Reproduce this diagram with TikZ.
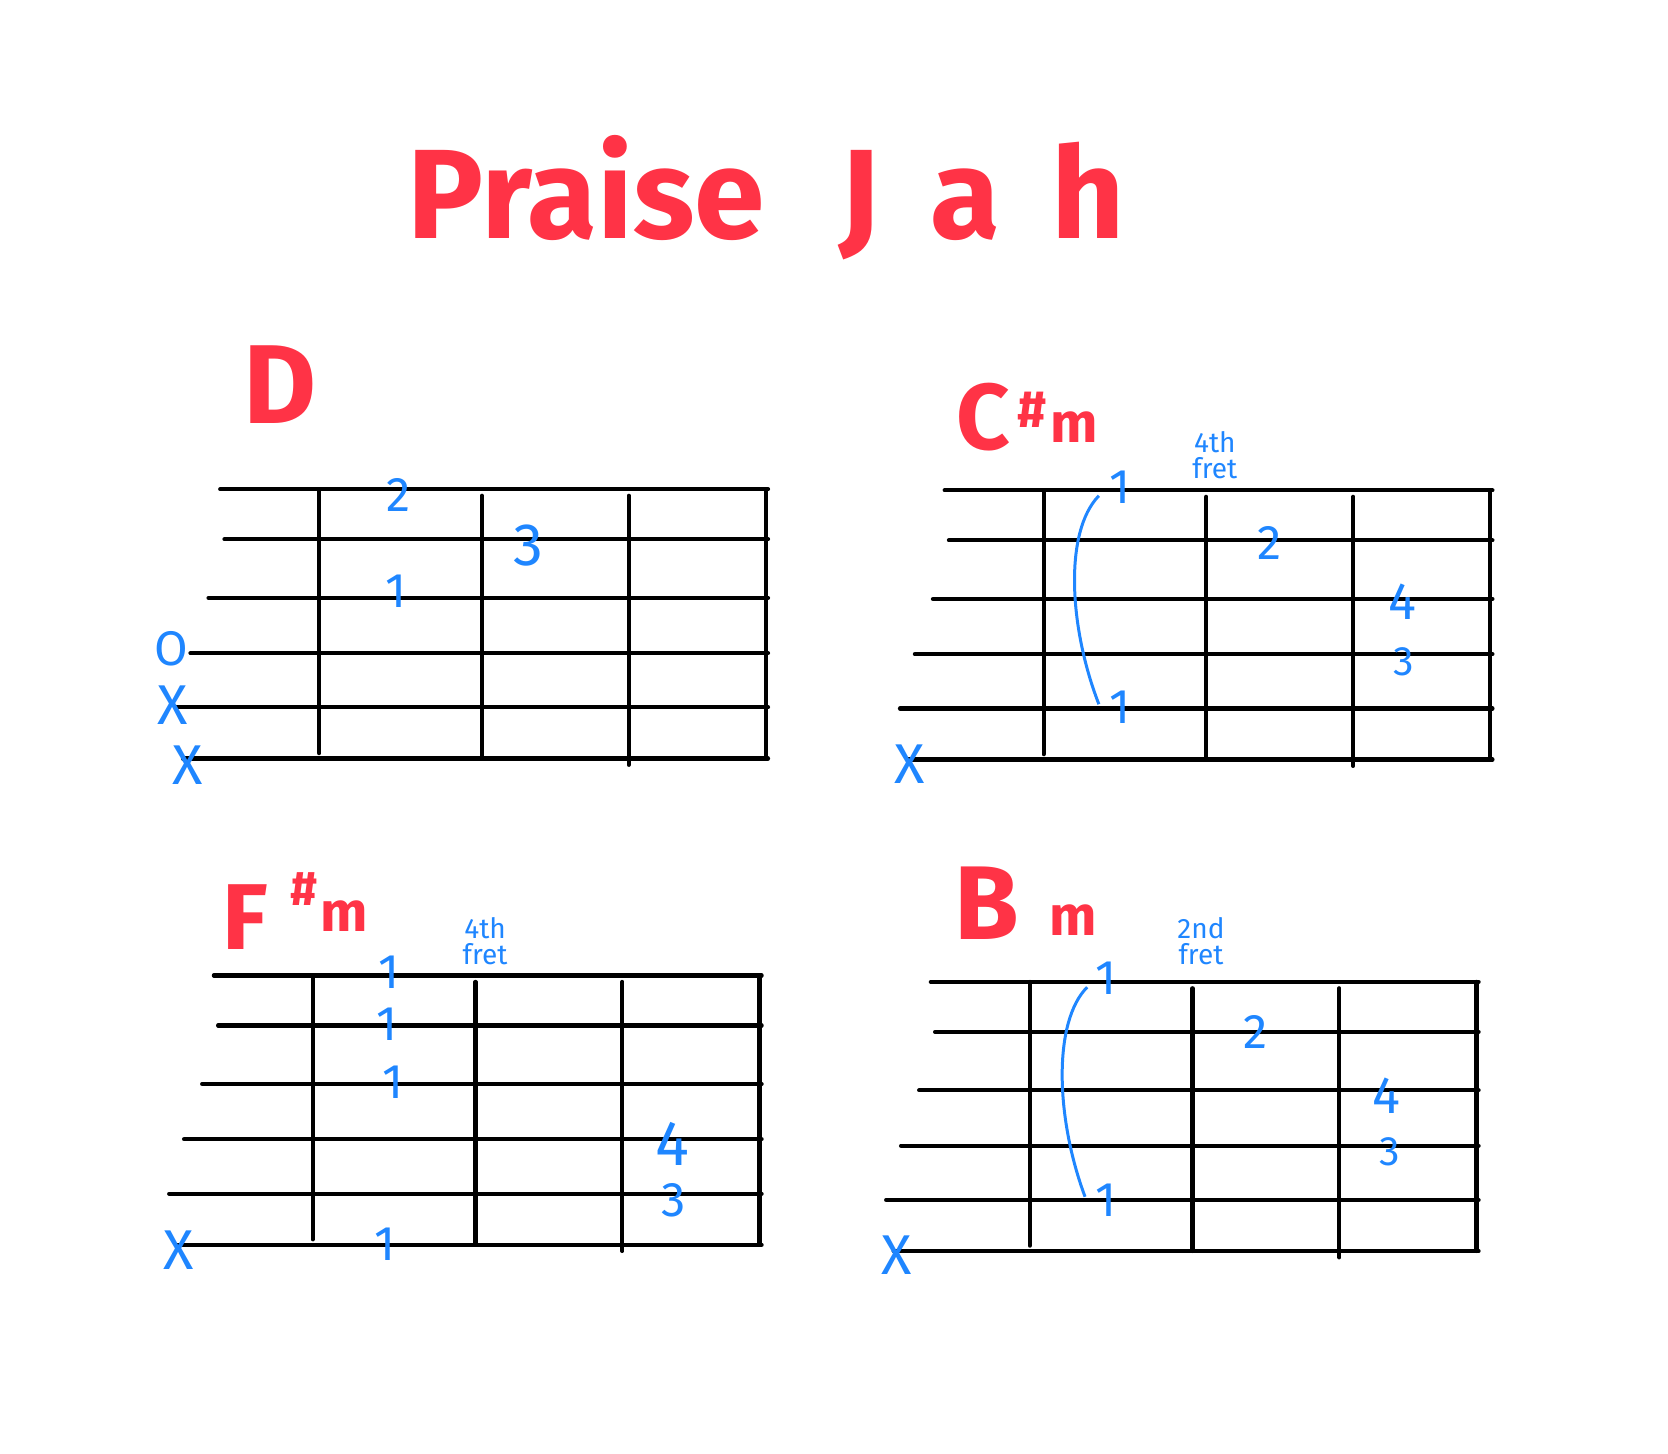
\documentclass[tikz,border=0pt]{standalone}
\usepackage{fontspec}
\setmainfont{Fira Sans}
\newfontfamily\widepen[LetterSpace=40]{Fira Sans}
\usetikzlibrary{calc}
\definecolor{penred}{HTML}{FF3346}
\definecolor{penblue}{HTML}{1F86FF}
\tikzset{
  stringline/.style={line width=1.1pt, draw=black, line cap=round},
  fretline/.style={line width=1.1pt, draw=black, line cap=round},
  barre/.style={line width=0.8pt, draw=penblue},
  finger/.style={text=penblue, inner sep=0pt, font=\fontsize{13}{13}\selectfont},
  mutemark/.style={text=penblue, inner sep=0pt, font=\fontsize{15}{15}\selectfont},
  fretlabel/.style={text=penblue, inner sep=0pt, align=center, font=\fontsize{7.5}{7}\selectfont},
  chordname/.style={text=penred, inner sep=0pt, anchor=base west, font=\bfseries},
  fretboard/.pic={
    \foreach \dy/\xs in {0/-93,47/-89,102/-104,154/-121,205/-135,253/-128}
      \draw[stringline] (\xs,\dy) -- (422,\dy);
    \foreach \dx/\ya/\yb in {0/0/248,153/6/253,291/6/259,420/0/253}
      \draw[fretline] (\dx,\ya) -- (\dx,\yb);
  },
}
\begin{document}
\begin{tikzpicture}[x=0.01cm, y=-0.01cm]
  \useasboundingbox (0,0) rectangle (1568,1366);
  % title
  \node[chordname, font=\bfseries\fontsize{34}{34}\selectfont] (title) at (382,224) {Praise\hspace{20pt}{\widepen Jah}};
  % chord names
  \node[chordname, font=\bfseries\fontsize{30}{30}\selectfont] (nameD) at (228,398) {D};
  \node[chordname] (nameCsm) at (898,423) {{\fontsize{25}{25}\selectfont C}\hspace{2pt}\raisebox{6pt}{\fontsize{14}{14}\selectfont\#}\hspace{1pt}\raisebox{2pt}{\fontsize{15}{15}\selectfont m}};
  \node[chordname] (nameFsm) at (208,893) {{\fontsize{25}{25}\selectfont F}\hspace{6pt}\raisebox{12pt}{\fontsize{13}{13}\selectfont\#}\hspace{1pt}\raisebox{5pt}{\fontsize{15}{15}\selectfont m}};
  \node[chordname] (nameBm) at (897,883) {{\fontsize{28}{28}\selectfont B}\hspace{8pt}\raisebox{1pt}{\fontsize{15}{15}\selectfont m}};
  % fretboards
  \pic at (300,460) {fretboard};
  \pic at (981,461) {fretboard};
  \pic at (294,917) {fretboard};
  \pic at (968,923) {fretboard};
  % D
  \node[finger] (dTwo) at (375,465) {2};
  \node[finger, font=\fontsize{16}{16}\selectfont] (dThree) at (497,513) {3};
  \node[finger] (dOne) at (372,556) {1};
  \node[finger] (dOpen) at (161,610) {O};
  \node[mutemark] (dMuteA) at (162,663) {X};
  \node[mutemark] (dMuteB) at (176,719) {X};
  % C#m
  \node[fretlabel] (cFret) at (1142,428) {4th\\fret};
  \node[finger] (cBarTop) at (1053,458) {1};
  \node[finger] (cBarBot) at (1053,665) {1};
  \node[finger] (cTwo) at (1193,510) {2};
  \node[finger, font=\fontsize{14}{14}\selectfont] (cFour) at (1318,566) {4};
  \node[finger, font=\fontsize{11}{11}\selectfont] (cThree) at (1320,622) {3};
  \node[mutemark] (cMute) at (855,718) {X};
  \coordinate (cBarA) at (1033,466);
  \coordinate (cBarB) at (1033,662);
  \draw[barre] (cBarA) .. controls (1000,500) and (1005,590) .. (cBarB);
  % F#m
  \node[fretlabel] (fFret) at (456,885) {4th\\fret};
  \node[finger] (fOneA) at (366,914) {1};
  \node[finger] (fOneB) at (364,963) {1};
  \node[finger] (fOneC) at (369,1017) {1};
  \node[finger, font=\fontsize{17}{17}\selectfont] (fFour) at (632,1075) {4};
  \node[finger] (fThree) at (633,1128) {3};
  \node[finger] (fOneD) at (362,1170) {1};
  \node[mutemark] (fMute) at (168,1175) {X};
  % Bm
  \node[fretlabel] (bFret) at (1129,885) {2nd\\fret};
  \node[finger] (bBarTop) at (1040,920) {1};
  \node[finger] (bBarBot) at (1040,1128) {1};
  \node[finger] (bTwo) at (1180,970) {2};
  \node[finger, font=\fontsize{14}{14}\selectfont] (bFour) at (1303,1030) {4};
  \node[finger, font=\fontsize{11}{11}\selectfont] (bThree) at (1306,1083) {3};
  \node[mutemark] (bMute) at (843,1180) {X};
  \coordinate (bBarA) at (1022,928);
  \coordinate (bBarB) at (1020,1125);
  \draw[barre] (bBarA) .. controls (990,960) and (992,1050) .. (bBarB);
\end{tikzpicture}
\end{document}
